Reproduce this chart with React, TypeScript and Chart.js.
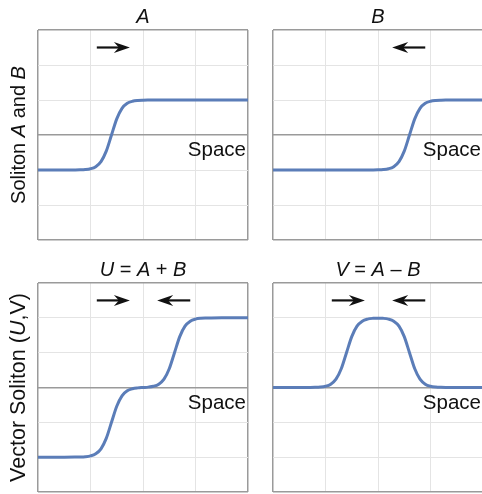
import React, { useEffect, useRef } from 'react';
import { Chart, registerables } from 'chart.js';

Chart.register(...registerables);

// Positions along "Space" (arbitrary units, 4 grid divisions)
const xs = [0, 0.5, 0.7, 0.8, 0.9, 1.0, 1.1, 1.2, 1.3, 1.4, 1.5, 1.6, 1.7, 1.8, 1.9, 2.0, 2.1, 2.2, 2.3, 2.4, 2.5, 2.6, 2.7, 2.8, 2.9, 3.0, 3.1, 3.2, 3.3, 3.5, 4.0];

// Soliton A (kink moving right)
const solitonA = [-1, -1, -0.998, -0.995, -0.987, -0.964, -0.905, -0.762, -0.462, 0, 0.462, 0.762, 0.905, 0.964, 0.987, 0.995, 0.998, 0.999, 1, 1, 1, 1, 1, 1, 1, 1, 1, 1, 1, 1, 1];
// Soliton B (kink moving left)
const solitonB = [-1, -1, -1, -1, -1, -1, -1, -1, -1, -1, -1, -1, -1, -0.999, -0.998, -0.995, -0.987, -0.964, -0.905, -0.762, -0.462, 0, 0.462, 0.762, 0.905, 0.964, 0.987, 0.995, 0.998, 1, 1];
// Vector soliton U = A + B
const vectorU = [-2, -2, -1.998, -1.995, -1.987, -1.964, -1.905, -1.762, -1.462, -1, -0.538, -0.238, -0.095, -0.035, -0.011, 0, 0.011, 0.035, 0.095, 0.238, 0.538, 1, 1.462, 1.762, 1.905, 1.964, 1.987, 1.995, 1.998, 2, 2];
// Vector soliton V = A - B
const vectorV = [0, 0, 0.002, 0.005, 0.013, 0.036, 0.095, 0.238, 0.538, 1, 1.462, 1.762, 1.905, 1.963, 1.985, 1.99, 1.985, 1.963, 1.905, 1.762, 1.462, 1, 0.538, 0.238, 0.095, 0.036, 0.013, 0.005, 0.002, 0, 0];

const xRange = [0, 4];
const yRange = [-3, 3];

// Direction arrows: [from, to] along Space, at height arrowLevel
const arrowLevel = 2.5;
const arrowsA = [[1.12, 1.75]];
const arrowsB = [[2.9, 2.27]];
const arrowsU = [[1.12, 1.75], [2.9, 2.27]];
const arrowsV = [[1.12, 1.75], [2.9, 2.27]];

type Seg = { t: string; i?: boolean };
const titleA: Seg[] = [{ t: 'A', i: true }];
const titleB: Seg[] = [{ t: 'B', i: true }];
const titleU: Seg[] = [{ t: 'U', i: true }, { t: ' = ' }, { t: 'A', i: true }, { t: ' + ' }, { t: 'B', i: true }];
const titleV: Seg[] = [{ t: 'V', i: true }, { t: ' = ' }, { t: 'A', i: true }, { t: ' \u2013 ' }, { t: 'B', i: true }];
const yLabelTop: Seg[] = [{ t: 'Soliton ' }, { t: 'A', i: true }, { t: ' and ' }, { t: 'B', i: true }];
const yLabelBottom: Seg[] = [{ t: 'Vector Soliton (' }, { t: 'U', i: true }, { t: ',V)' }];
const xLabel = 'Space';

const FONT = '"Liberation Sans", Arial, sans-serif';
const LINE_COLOR = '#5b7db8';
const BOX_COLOR = '#9a9a9a';
const GRID_COLOR = '#e4e4e4';

function drawSegs(ctx: CanvasRenderingContext2D, segs: Seg[], cx: number, baseY: number, size: number) {
  const fonts = segs.map((s) => `${s.i ? 'italic ' : ''}${size}px ${FONT}`);
  let total = 0;
  const widths = segs.map((s, k) => {
    ctx.font = fonts[k];
    const w = ctx.measureText(s.t).width;
    total += w;
    return w;
  });
  let x = cx - total / 2;
  ctx.textAlign = 'left';
  ctx.textBaseline = 'alphabetic';
  segs.forEach((s, k) => {
    ctx.font = fonts[k];
    ctx.fillText(s.t, x, baseY);
    x += widths[k];
  });
}

type PanelProps = {
  left: number;
  top: number;
  width: number;
  height: number;
  padding: { left: number; top: number; right: number; bottom: number };
  values: number[];
  arrows: number[][];
  title: Seg[];
  yLabel?: Seg[];
  yLabelX?: number;
  yLabelSize?: number;
};

function Panel(p: PanelProps) {
  const ref = useRef<HTMLCanvasElement>(null);
  useEffect(() => {
    if (!ref.current) return;
    const edgeX = (v: number) => v === xRange[0] || v === xRange[1];
    const edgeY = (v: number) => v === yRange[0] || v === yRange[1] || v === 0;
    const overlay = {
      id: 'overlay',
      afterDraw(chart: any) {
        const ctx = chart.ctx as CanvasRenderingContext2D;
        const xs_ = chart.scales.x;
        const ys_ = chart.scales.y;
        const area = chart.chartArea;
        ctx.save();
        ctx.fillStyle = '#111';
        ctx.strokeStyle = '#111';
        // arrows
        p.arrows.forEach(([a, b]) => {
          const x0 = xs_.getPixelForValue(a);
          const x1 = xs_.getPixelForValue(b);
          const y = ys_.getPixelForValue(arrowLevel);
          const dir = x1 > x0 ? 1 : -1;
          ctx.lineWidth = 2.2;
          ctx.beginPath();
          ctx.moveTo(x0, y);
          ctx.lineTo(x1 - dir * 10, y);
          ctx.stroke();
          ctx.beginPath();
          ctx.moveTo(x1, y);
          ctx.lineTo(x1 - dir * 16, y - 5.5);
          ctx.lineTo(x1 - dir * 11, y);
          ctx.lineTo(x1 - dir * 16, y + 5.5);
          ctx.closePath();
          ctx.fill();
        });
        // Space label
        const y0 = ys_.getPixelForValue(0);
        ctx.font = `20.5px ${FONT}`;
        ctx.textAlign = 'right';
        ctx.textBaseline = 'alphabetic';
        ctx.fillText(xLabel, area.right - 2, y0 + 21);
        // title
        drawSegs(ctx, p.title, (area.left + area.right) / 2, area.top - 7, 20);
        // y label
        if (p.yLabel) {
          ctx.save();
          ctx.translate(p.yLabelX ?? 24, (area.top + area.bottom) / 2);
          ctx.rotate(-Math.PI / 2);
          drawSegs(ctx, p.yLabel, 0, 0, p.yLabelSize ?? 20);
          ctx.restore();
        }
        ctx.restore();
      },
    };
    const chart = new Chart(ref.current, {
      type: 'line',
      data: {
        datasets: [
          {
            data: xs.map((x, i) => ({ x, y: p.values[i] })),
            borderColor: LINE_COLOR,
            borderWidth: 3,
            pointRadius: 0,
            fill: false,
            cubicInterpolationMode: 'monotone',
          },
        ],
      },
      options: {
        animation: false,
        responsive: false,
        maintainAspectRatio: false,
        layout: { padding: p.padding },
        plugins: { legend: { display: false }, tooltip: { enabled: false }, title: { display: false } },
        scales: {
          x: {
            type: 'linear',
            min: xRange[0],
            max: xRange[1],
            ticks: { stepSize: 1, display: false },
            border: { display: false },
            grid: {
              drawTicks: false,
              color: (c: any) => (edgeX(c.tick.value) ? BOX_COLOR : GRID_COLOR),
              lineWidth: (c: any) => (edgeX(c.tick.value) ? 1.5 : 1),
            },
            afterFit: (s: any) => {
              s.height = 0;
            },
          },
          y: {
            type: 'linear',
            min: yRange[0],
            max: yRange[1],
            ticks: { stepSize: 1, display: false },
            border: { display: false },
            grid: {
              drawTicks: false,
              color: (c: any) => (edgeY(c.tick.value) ? BOX_COLOR : GRID_COLOR),
              lineWidth: (c: any) => (edgeY(c.tick.value) ? 1.5 : 1),
            },
            afterFit: (s: any) => {
              s.width = 0;
            },
          },
        },
      } as any,
      plugins: [overlay],
    });
    return () => chart.destroy();
  }, []);
  return (
    <canvas
      ref={ref}
      width={p.width}
      height={p.height}
      style={{ position: 'absolute', left: p.left, top: p.top, width: p.width, height: p.height }}
    />
  );
}

export default function App() {
  return (
    <div style={{ position: 'fixed', left: 0, top: 0, width: 482, height: 494, overflow: 'hidden', background: '#fff' }}>
      <Panel left={0} top={0} width={250} height={250} padding={{ left: 38, top: 30, right: 2, bottom: 10 }}
        values={solitonA} arrows={arrowsA} title={titleA} yLabel={yLabelTop} yLabelX={25} yLabelSize={20} />
      <Panel left={250} top={0} width={240} height={250} padding={{ left: 23, top: 30, right: 7, bottom: 10 }}
        values={solitonB} arrows={arrowsB} title={titleB} />
      <Panel left={0} top={250} width={250} height={244} padding={{ left: 38, top: 33, right: 2, bottom: 2 }}
        values={vectorU} arrows={arrowsU} title={titleU} yLabel={yLabelBottom} yLabelX={25} yLabelSize={21.5} />
      <Panel left={250} top={250} width={240} height={244} padding={{ left: 23, top: 33, right: 7, bottom: 2 }}
        values={vectorV} arrows={arrowsV} title={titleV} />
    </div>
  );
}
